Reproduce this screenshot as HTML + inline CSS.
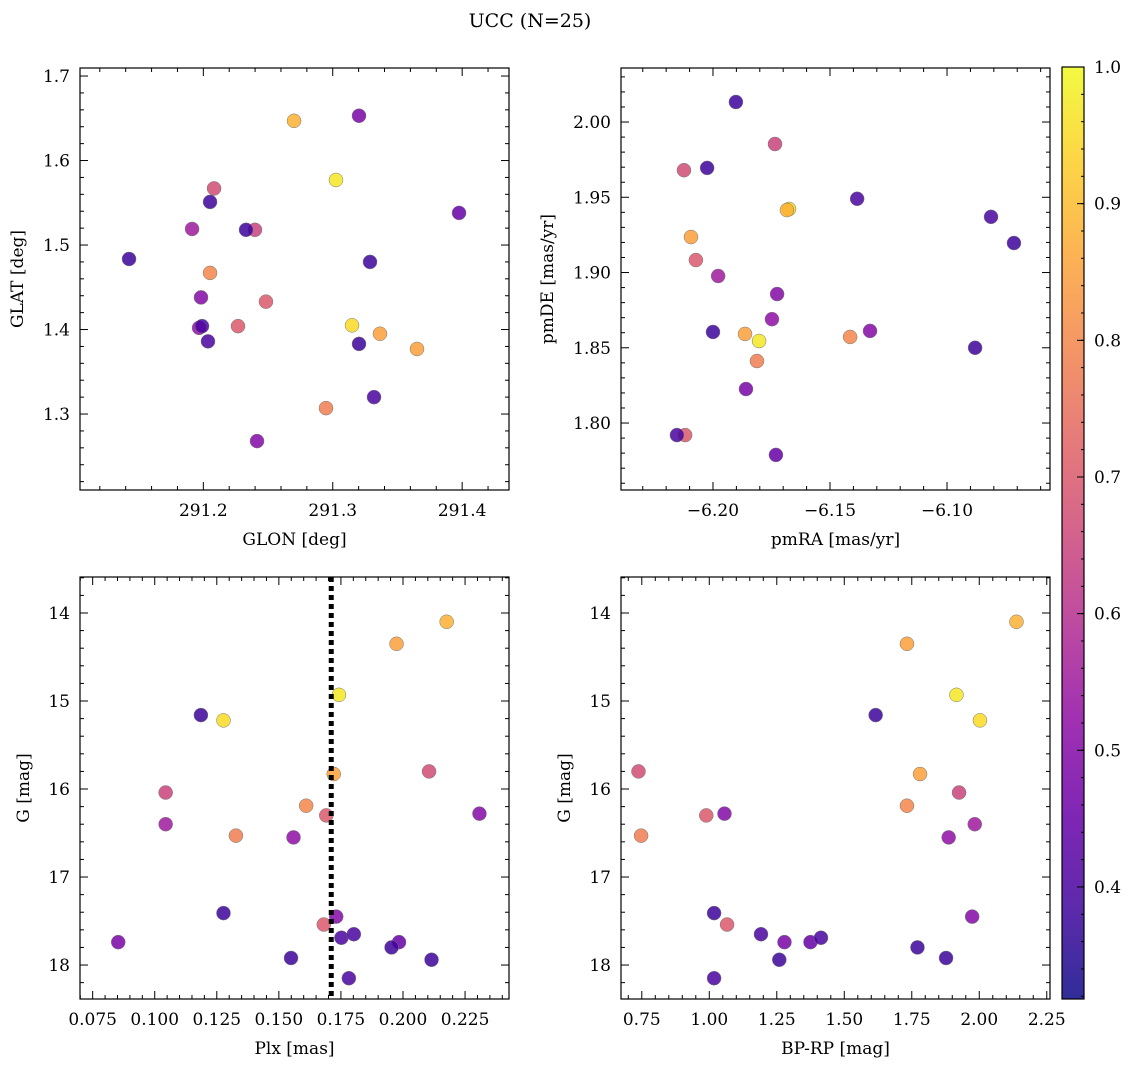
<!DOCTYPE html>
<html><head><meta charset="utf-8"><style>
body{margin:0;background:#fff}
svg{display:block;font-family:"DejaVu Serif","Liberation Serif",serif}
</style></head><body>
<svg id="fig" width="1136" height="1067" viewBox="0 0 1136 1067">
<text x="530" y="27" font-size="19" text-anchor="middle">UCC (N=25)</text>
</svg>
<script>
// data (groups: yellow, orange, pink, purple, blue)
const prob = [0.97,0.95, 0.88,0.85,0.85,0.80,0.78, 0.67,0.65,0.70,0.70, 0.55,0.50,0.52,0.50,0.48,0.45, 0.38,0.38,0.40,0.40,0.38,0.38,0.38,0.40];
const glon = [291.3025,291.3149, 291.2701,291.3365,291.3651,291.2052,291.2948, 291.2083,291.2399,291.2484,291.2268, 291.1913,291.1982,291.1967,291.2415,291.3203,291.3976, 291.1426,291.2052,291.1990,291.2036,291.2330,291.3288,291.3203,291.3319];
const glat = [1.577,1.405, 1.647,1.395,1.377,1.467,1.307, 1.567,1.518,1.433,1.404, 1.519,1.438,1.402,1.268,1.653,1.538, 1.4835,1.551,1.404,1.386,1.518,1.480,1.383,1.320];
const pmra = [-6.1803,-6.1675, -6.1684,-6.2094,-6.1863,-6.1414,-6.1812, -6.2124,-6.1735,-6.2073,-6.2119, -6.1978,-6.1726,-6.1748,-6.1329,-6.1859,-6.1731, -6.1902,-6.2025,-6.1384,-6.0812,-6.0714,-6.2000,-6.0880,-6.2154];
const pmde = [1.8545,1.9422, 1.9415,1.9236,1.8592,1.8572,1.8412, 1.968,1.9854,1.9083,1.792, 1.8977,1.8857,1.869,1.8612,1.8226,1.7788, 2.0133,1.9695,1.949,1.937,1.9196,1.8605,1.85,1.792];
const plx = [0.1742,0.1277, 0.2176,0.1974,0.1721,0.1610,0.1327, 0.2105,0.1044,0.1691,0.1681, 0.1044,0.2308,0.1559,0.1731,0.0853,0.1984, 0.1186,0.1277,0.1752,0.1802,0.1954,0.1549,0.2115,0.1782];
const gmag = [14.93,15.22, 14.10,14.35,15.83,16.19,16.53, 15.80,16.04,16.30,17.54, 16.40,16.28,16.55,17.45,17.74,17.74, 15.16,17.41,17.69,17.65,17.80,17.92,17.94,18.15];
const bprp = [1.9156,2.0026, 2.1378,1.7322,1.7807,1.7322,0.7474, 0.7378,1.9252,0.9889,1.0659, 1.9833,1.0563,1.8867,1.9737,1.2785,1.3748, 1.6163,1.0178,1.4137,1.1915,1.7711,1.8770,1.2593,1.0178];
const plxLine = 0.1711;
const cbTicks = [0.4,0.5,0.6,0.7,0.8,0.9,1.0];

const NS="http://www.w3.org/2000/svg";
const svg=document.getElementById('fig');
function mk(tag,attrs,parent){const e=document.createElementNS(NS,tag);for(const k in attrs)e.setAttribute(k,attrs[k]);(parent||svg).appendChild(e);return e;}
const plasma=[[13,8,135],[65,4,157],[106,0,168],[143,13,164],[177,42,144],[204,71,120],[225,100,98],[242,132,75],[252,166,54],[252,206,37],[240,249,33]];
const cmin=0.318,cmax=1.0;
function col(v){let t=(v-cmin)/(cmax-cmin);t=Math.max(0,Math.min(1,t));const f=t*10,i=Math.min(9,Math.floor(f)),r=f-i;const a=plasma[i],b=plasma[i+1];return `rgb(${a.map((x,k)=>Math.round(x+(b[k]-x)*r)).join(',')})`;}
function fmt(v,d){return (v<0?'\u2212':'')+Math.abs(v).toFixed(d);}

function panel(o){
  const {x0,x1,y0,y1,xmin,xmax,ymin,ymax,inv}=o;
  const sx=v=>x0+(v-xmin)/(xmax-xmin)*(x1-x0);
  const sy=v=>inv? y0+(v-ymin)/(ymax-ymin)*(y1-y0) : y1-(v-ymin)/(ymax-ymin)*(y1-y0);
  const g=mk('g',{});
  
  
  for(let i=0;i<o.xs.length;i++){
    const c=mk('circle',{cx:sx(o.xs[i]),cy:sy(o.ys[i]),r:7,fill:col(prob[i]),'fill-opacity':0.85,stroke:'#777','stroke-width':0.5},g);
    
    
  }
  if(o.vline!==undefined){
    const l=mk('line',{x1:sx(o.vline),x2:sx(o.vline),y1:y0,y2:y1,stroke:'#000','stroke-width':5,'stroke-dasharray':'5,4'},g);
    
    
  }
  const tk=mk('g',{stroke:'#000','stroke-width':1},g);
  const eps=1e-9;
  for(let v=Math.ceil(xmin/o.xmi-eps)*o.xmi;v<=xmax+eps;v+=o.xmi){
    const X=sx(v);const maj=Math.abs(v/o.xma-Math.round(v/o.xma))<1e-4;const L=maj?8:4;
    mk('line',{x1:X,x2:X,y1:y1,y2:y1-L},tk);mk('line',{x1:X,x2:X,y1:y0,y2:y0+L},tk);
    if(maj && X>x0+5 && X<x1-1){const t=mk('text',{x:X,y:y1+26,'font-size':17,'text-anchor':'middle',stroke:'none'},g);t.textContent=fmt(v,o.xd);
      }
  }
  for(let v=Math.ceil(ymin/o.ymi-eps)*o.ymi;v<=ymax+eps;v+=o.ymi){
    const Y=sy(v);const maj=Math.abs(v/o.yma-Math.round(v/o.yma))<1e-4;const L=maj?8:4;
    mk('line',{y1:Y,y2:Y,x1:x0,x2:x0+L},tk);mk('line',{y1:Y,y2:Y,x1:x1,x2:x1-L},tk);
    if(maj && Y>y0+3 && Y<y1-3){const t=mk('text',{x:x0-10,y:Y+6,'font-size':17,'text-anchor':'end',stroke:'none'},g);t.textContent=fmt(v,o.yd);
      }
  }
  const fr=mk('rect',{x:x0,y:y0,width:x1-x0,height:y1-y0,fill:'none',stroke:'#000','stroke-width':1.2},g);
  
  const xl=mk('text',{x:(x0+x1)/2,y:y1+55,'font-size':17,'text-anchor':'middle'},g);xl.textContent=o.xlab;
  
  const yl=mk('text',{x:0,y:0,'font-size':17,'text-anchor':'middle',transform:`translate(${o.ylx},${(y0+y1)/2}) rotate(-90)`},g);yl.textContent=o.ylab;
  
}
panel({name:'glon-glat-panel',x0:80,x1:509,y0:68,y1:490,xmin:291.1047,xmax:291.4362,ymin:1.2101,ymax:1.7095,xs:glon,ys:glat,xma:0.1,xmi:0.02,yma:0.1,ymi:0.02,xd:1,yd:1,xlab:'GLON [deg]',ylab:'GLAT [deg]',ylx:23});
panel({name:'pm-panel',x0:621,x1:1050,y0:68,y1:490,xmin:-6.2393,xmax:-6.0560,ymin:1.7555,ymax:2.0359,xs:pmra,ys:pmde,xma:0.05,xmi:0.01,yma:0.05,ymi:0.01,xd:2,yd:2,xlab:'pmRA [mas/yr]',ylab:'pmDE [mas/yr]',ylx:553});
panel({name:'plx-g-panel',x0:80,x1:509,y0:577,y1:999,xmin:0.0699,xmax:0.2427,ymin:13.591,ymax:18.386,inv:true,xs:plx,ys:gmag,xma:0.025,xmi:0.005,yma:1,ymi:0.2,xd:3,yd:0,xlab:'Plx [mas]',ylab:'G [mag]',ylx:29,vline:plxLine});
panel({name:'cmd-panel',x0:621,x1:1050,y0:577,y1:999,xmin:0.673,xmax:2.262,ymin:13.591,ymax:18.386,inv:true,xs:bprp,ys:gmag,xma:0.25,xmi:0.05,yma:1,ymi:0.2,xd:2,yd:0,xlab:'BP-RP [mag]',ylab:'G [mag]',ylx:570});

const cb=mk('g',{});


const defs=mk('defs',{},svg);
const gr=mk('linearGradient',{id:'pl',x1:0,y1:1,x2:0,y2:0},defs);
plasma.forEach((c,i)=>mk('stop',{offset:i/10,'stop-color':`rgb(${c.join(',')})`,'stop-opacity':0.85},gr));
const cx0=1062,cx1=1084,cy0=67,cy1=999;
mk('rect',{x:cx0,y:cy0,width:cx1-cx0,height:cy1-cy0,fill:'url(#pl)',stroke:'#000','stroke-width':1.2},cb);
const csy=v=>cy1-(v-cmin)/(cmax-cmin)*(cy1-cy0);
for(let v=0.32;v<=1.0001;v+=0.02){const Y=csy(v);mk('line',{x1:cx1,x2:cx1-3,y1:Y,y2:Y,stroke:'#000'},cb);}
cbTicks.forEach(v=>{const Y=csy(v);mk('line',{x1:cx1,x2:cx1-7,y1:Y,y2:Y,stroke:'#000'},cb);
  const t=mk('text',{x:cx1+10,y:Y+6,'font-size':17},cb);t.textContent=v.toFixed(1);
  });
</script>
</body></html>
